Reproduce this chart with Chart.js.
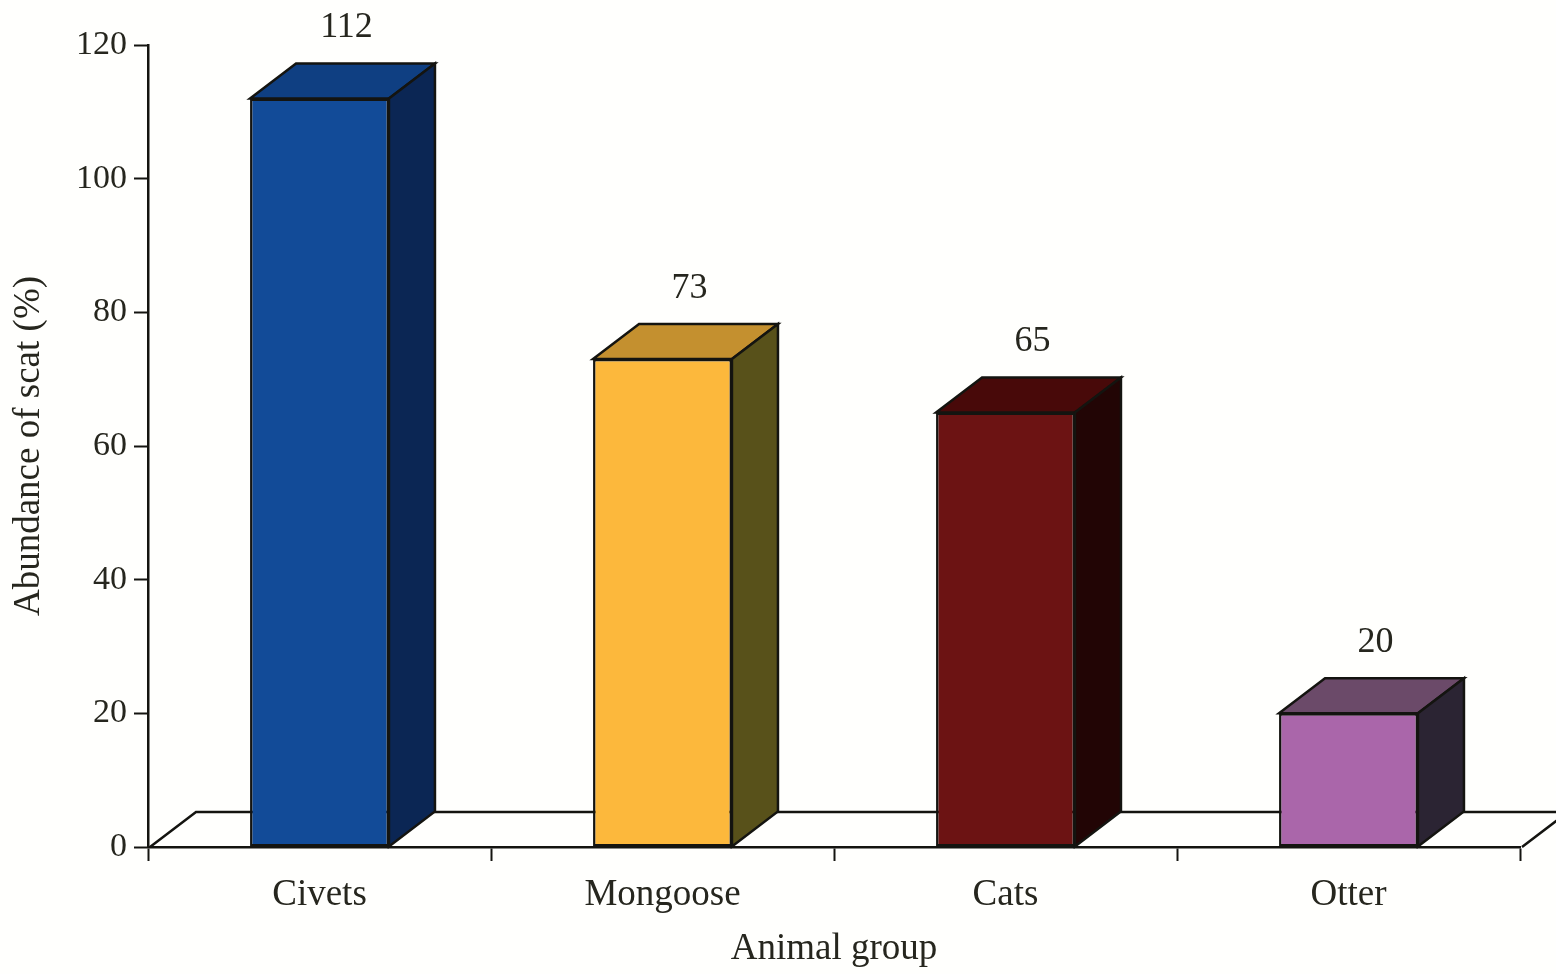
<!DOCTYPE html>
<html>
<head>
<meta charset="utf-8">
<script src="https://cdn.jsdelivr.net/npm/chart.js@4.4.1/dist/chart.umd.min.js"></script>
<style>
  html, body { margin: 0; padding: 0; background: #fffffd; }
  #wrap { width: 1556px; height: 974px; }
</style>
</head>
<body>
<div id="wrap"><canvas id="c" width="1556" height="974"></canvas></div>
<script>
// Scat counts per animal group
const categories = ['Civets', 'Mongoose', 'Cats', 'Otter'];
const scatAbundance = [112, 73, 65, 20];
const yTickValues = [0, 20, 40, 60, 80, 100, 120];

// Face colours of each box: front, top and right side
const frontColors = ['#124b98', '#fcb83c', '#6c1313', '#aa66aa'];
const topColors   = ['#0f3f82', '#c4902f', '#480909', '#6b4a69'];
const sideColors  = ['#0b2654', '#58511a', '#220505', '#2b2433'];

const INK = '#26261e';
const EDGE = '#141410';
const FONT = 'Liberation Serif, Times New Roman, serif';
const DEPTH_X = 46, DEPTH_Y = 35;

function poly(ctx, pts, fill) {
  ctx.beginPath();
  ctx.moveTo(pts[0][0], pts[0][1]);
  for (let k = 1; k < pts.length; k++) ctx.lineTo(pts[k][0], pts[k][1]);
  ctx.closePath();
  if (fill) { ctx.fillStyle = fill; ctx.fill(); }
  ctx.stroke();
}

// Floor plane plus the top and side faces of each bar
const box3d = {
  id: 'box3d',
  beforeDatasetsDraw(chart) {
    const { ctx, chartArea: a } = chart;
    const y0 = chart.scales.y.getPixelForValue(0);
    ctx.save();
    ctx.strokeStyle = EDGE;
    ctx.lineWidth = 2.5;
    ctx.lineJoin = 'miter';
    ctx.beginPath();
    ctx.moveTo(a.left + 2, y0);
    ctx.lineTo(a.left + 2 + DEPTH_X, y0 - DEPTH_Y);
    ctx.lineTo(a.right + 2 + DEPTH_X, y0 - DEPTH_Y);
    ctx.lineTo(a.right + 2, y0);
    ctx.stroke();

    const meta = chart.getDatasetMeta(0);
    meta.data.forEach((bar, i) => {
      const { x, y, base, width } = bar.getProps(['x', 'y', 'base', 'width'], true);
      const l = x - width / 2, r = x + width / 2;
      poly(ctx, [[l, y], [l + DEPTH_X, y - DEPTH_Y], [r + DEPTH_X, y - DEPTH_Y], [r, y]], topColors[i]);
      poly(ctx, [[r, y], [r + DEPTH_X, y - DEPTH_Y], [r + DEPTH_X, base - DEPTH_Y], [r, base]], sideColors[i]);
    });
    ctx.restore();
  },
  afterDatasetsDraw(chart) {
    const { ctx } = chart;
    const meta = chart.getDatasetMeta(0);
    ctx.save();
    ctx.fillStyle = INK;
    ctx.font = '36px ' + FONT;
    ctx.textAlign = 'center';
    ctx.textBaseline = 'middle';
    meta.data.forEach((bar, i) => {
      const { x, y } = bar.getProps(['x', 'y'], true);
      ctx.fillText(String(scatAbundance[i]), x + DEPTH_X / 2 + 4, y - DEPTH_Y - 36);
    });
    ctx.restore();
  }
};

new Chart(document.getElementById('c'), {
  type: 'bar',
  data: {
    labels: categories,
    datasets: [{
      data: scatAbundance,
      backgroundColor: frontColors,
      borderColor: EDGE,
      borderWidth: 2.5,
      borderSkipped: false,
      barPercentage: 1,
      categoryPercentage: 0.405
    }]
  },
  options: {
    responsive: false,
    animation: false,
    events: [],
    layout: { padding: { top: 45, right: 36, left: 0, bottom: 0 } },
    plugins: { legend: { display: false }, tooltip: { enabled: false } },
    scales: {
      x: {
        grid: { display: true, drawOnChartArea: false, drawTicks: true, tickLength: 14, tickColor: EDGE, tickWidth: 2, offset: true },
        border: { display: true, color: EDGE, width: 2.5 },
        ticks: { color: INK, font: { family: FONT, size: 37 }, padding: 12 },
        title: { display: true, text: 'Animal group', color: INK, font: { family: FONT, size: 37 }, padding: { top: 0, bottom: 3 } },
        afterFit(s) { s.height = 127; }
      },
      y: {
        min: 0,
        max: 120,
        afterBuildTicks(s) { s.ticks = yTickValues.map(v => ({ value: v })); },
        grid: { display: true, drawOnChartArea: false, drawTicks: true, tickLength: 14, tickColor: EDGE, tickWidth: 2 },
        border: { display: true, color: EDGE, width: 2.5 },
        ticks: { color: INK, font: { family: FONT, size: 34 }, padding: 7 },
        title: { display: true, text: 'Abundance of scat (%)', color: INK, font: { family: FONT, size: 37 }, padding: { top: 7, bottom: 0 } },
        afterFit(s) { s.width = 148; }
      }
    }
  },
  plugins: [box3d]
});
</script>
</body>
</html>
